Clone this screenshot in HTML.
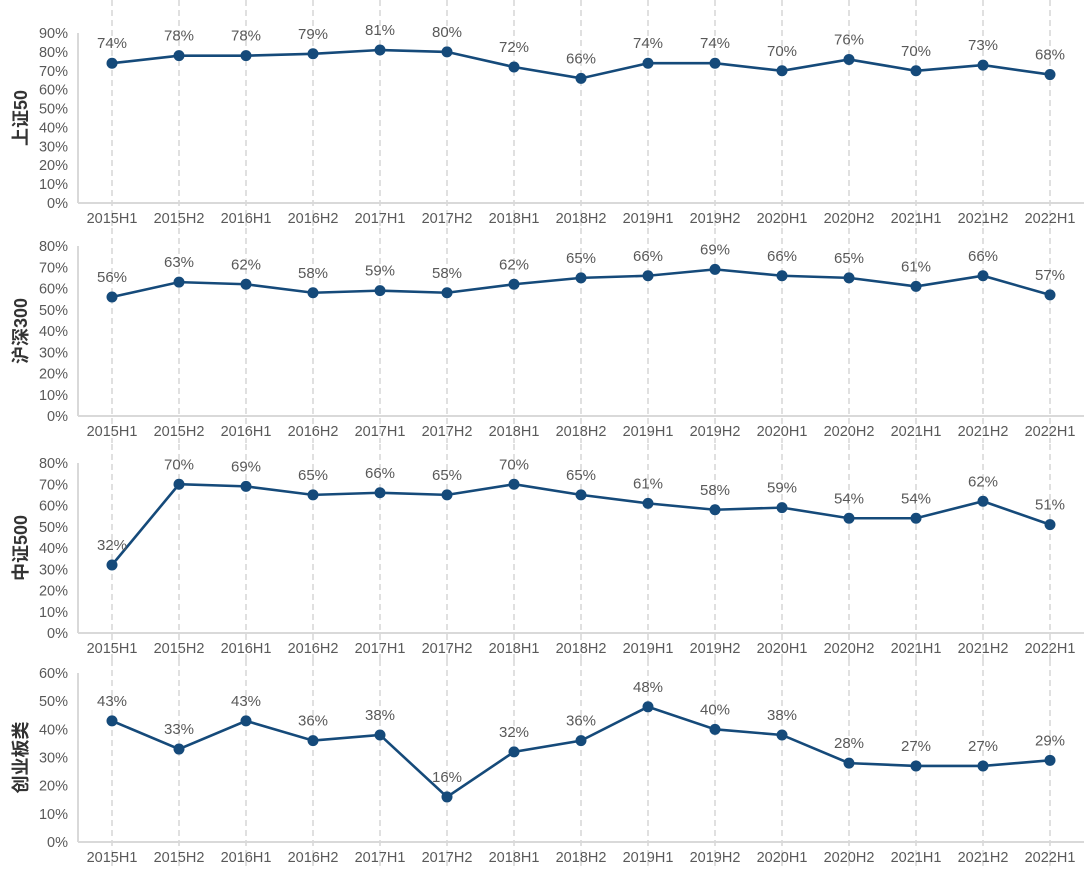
<!DOCTYPE html>
<html><head><meta charset="utf-8"><style>
body{margin:0;background:#fff;}
svg text{font-family:"Liberation Sans","Noto Sans CJK SC",sans-serif;}
</style></head><body>
<svg id="chart" width="1092" height="873" xmlns="http://www.w3.org/2000/svg"></svg>
<script>
const categories=["2015H1","2015H2","2016H1","2016H2","2017H1","2017H2","2018H1","2018H2","2019H1","2019H2","2020H1","2020H2","2021H1","2021H2","2022H1"];
const sz50=[74,78,78,79,81,80,72,66,74,74,70,76,70,73,68];
const hs300=[56,63,62,58,59,58,62,65,66,69,66,65,61,66,57];
const zz500=[32,70,69,65,66,65,70,65,61,58,59,54,54,62,51];
const cyb=[43,33,43,36,38,16,32,36,48,40,38,28,27,27,29];
const titles=["上证50","沪深300","中证500","创业板类"];
const maxes=[90,80,80,60];
const seriesList=[sz50,hs300,zz500,cyb];
const panels=[{base:203,top:33,vtop:0},{base:416,top:246,vtop:228},{base:633,top:463,vtop:444},{base:842,top:673,vtop:660}];
const NS="http://www.w3.org/2000/svg";
const svg=document.getElementById('chart');
function mk(tag,attrs,parent){const e=document.createElementNS(NS,tag);for(const k in attrs)e.setAttribute(k,attrs[k]);(parent||svg).appendChild(e);return e;}
const x=i=>112+i*67;
panels.forEach((p,pi)=>{
  const g=mk('g',{});
  
  
  const y=v=>p.base-(v/maxes[pi])*(p.base-p.top);
  categories.forEach((c,i)=>{
    const l=mk('line',{x1:x(i),x2:x(i),y1:p.vtop,y2:p.base+27,stroke:'#d0d0d0','stroke-width':1.3,'stroke-dasharray':'6,4'},g);
    
    
    const t=mk('text',{x:x(i),y:p.base+20,'text-anchor':'middle','font-size':14.5,fill:'#595959'},g);
    
    
    t.textContent=c;
  });
  const ax=mk('line',{x1:78,x2:1084,y1:p.base,y2:p.base,stroke:'#d9d9d9','stroke-width':2},g);
  
  
  const ay=mk('line',{x1:78,x2:78,y1:p.top,y2:p.base,stroke:'#d9d9d9','stroke-width':2},g);
  
  
  for(let v=0;v<=maxes[pi];v+=10){
    const t=mk('text',{x:68,y:y(v)+5,'text-anchor':'end','font-size':14.5,fill:'#595959'},g);
    
    
    t.textContent=v+'%';
  }
  const cy=(p.base+p.top)/2;
  const tt=mk('text',{x:0,y:0,'text-anchor':'middle','font-size':18,fill:'#333','font-weight':'bold',transform:`translate(27,${cy}) rotate(-90)`},g);
  
  
  tt.textContent=titles[pi];
  const s=seriesList[pi];
  const pl=mk('polyline',{points:s.map((v,i)=>x(i)+','+y(v)).join(' '),fill:'none',stroke:'#154a7a','stroke-width':2.6},g);
  
  
  s.forEach((v,i)=>{
    const c=mk('circle',{cx:x(i),cy:y(v),r:5.5,fill:'#154a7a'},g);
    
    
    const t=mk('text',{x:x(i),y:y(v)-15,'text-anchor':'middle','font-size':15,fill:'#595959'},g);
    
    
    t.textContent=v+'%';
  });
});
</script>
</body></html>
